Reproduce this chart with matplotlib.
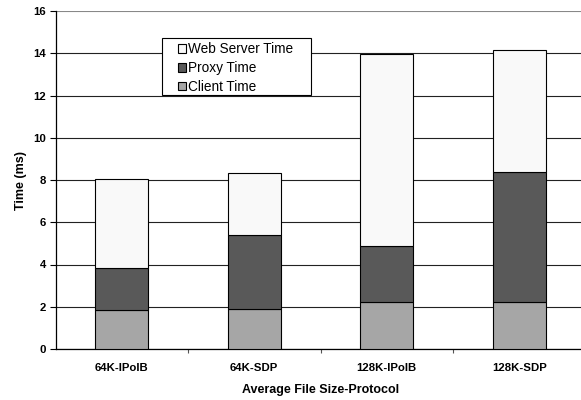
import matplotlib
matplotlib.use("Agg")
import matplotlib.pyplot as plt
from matplotlib.patches import Patch, Rectangle
import numpy as np

categories = ["64K-IPoIB", "64K-SDP", "128K-IPoIB", "128K-SDP"]
client_time = [1.85, 1.88, 2.21, 2.21]
proxy_time = [2.00, 3.52, 2.67, 6.18]
web_server_time = [4.20, 2.95, 9.07, 5.76]

plt.rcParams['font.family'] = ['Liberation Sans', 'DejaVu Sans']

fig = plt.figure(figsize=(5.81, 4.0), dpi=100)
ax = fig.add_axes([55.5/581, 51/400, 530/581, 338/400])

x = np.arange(len(categories)) + 0.5
w = 0.4
c_client = '#a6a6a6'
c_proxy = '#595959'
c_web = '#f9f9f9'
ax.bar(x, client_time, w, color=c_client, edgecolor='black', linewidth=0.8, zorder=3)
ax.bar(x, proxy_time, w, bottom=client_time, color=c_proxy, edgecolor='black', linewidth=0.8, zorder=3)
bottom2 = [a + b for a, b in zip(client_time, proxy_time)]
ax.bar(x, web_server_time, w, bottom=bottom2, color=c_web, edgecolor='black', linewidth=0.8, zorder=3)

ax.set_xlim(0, 4)
ax.set_ylim(0, 16)
ax.set_yticks(np.arange(0, 17, 2))
ax.yaxis.grid(True, color='#222222', linewidth=0.8, zorder=0)
ax.set_axisbelow(True)
gl = ax.yaxis.get_gridlines()
gl[-1].set_color('#888888')

ax.set_xticks([1, 2, 3])
ax.set_xticklabels([])
ax.set_xticks(x, minor=True)
ax.set_xticklabels(categories, minor=True)
ax.tick_params(axis='x', which='major', length=3, direction='out', width=0.8, color='#555555')
ax.tick_params(axis='x', which='minor', length=0, pad=10)
ax.tick_params(axis='y', length=4, direction='out', width=0.8, pad=3)

for lab in ax.get_xticklabels(minor=True) + ax.get_yticklabels():
    lab.set_fontweight('bold')
    lab.set_fontsize(8.2)

for s in ['top', 'right']:
    ax.spines[s].set_visible(False)
ax.spines['left'].set_linewidth(0.9)
ax.spines['bottom'].set_linewidth(0.9)

ax.set_xlabel("Average File Size-Protocol", fontsize=9, fontweight='bold', labelpad=8)
ax.set_ylabel("Time (ms)", fontsize=9, fontweight='bold', labelpad=4)

# legend frame
frame = Rectangle(((162-55.5)/530, (349-95)/338), 149/530, 57/338,
                  transform=ax.transAxes, facecolor='white', edgecolor='black',
                  linewidth=0.8, zorder=4)
ax.add_patch(frame)

handles = [Patch(facecolor=c_web, edgecolor='black', linewidth=0.8),
           Patch(facecolor=c_proxy, edgecolor='black', linewidth=0.8),
           Patch(facecolor=c_client, edgecolor='black', linewidth=0.8)]
leg = ax.legend(handles, ["Web Server Time", "Proxy Time", "Client Time"],
                loc='upper left', bbox_to_anchor=((178-55.5)/530, (349-42)/338),
                fontsize=9.8, frameon=False, handlelength=0.62, handleheight=0.62,
                handletextpad=0.15, borderpad=0, labelspacing=0.36,
                borderaxespad=0)
leg.set_zorder(5)

fig.savefig("out.png", dpi=100)
